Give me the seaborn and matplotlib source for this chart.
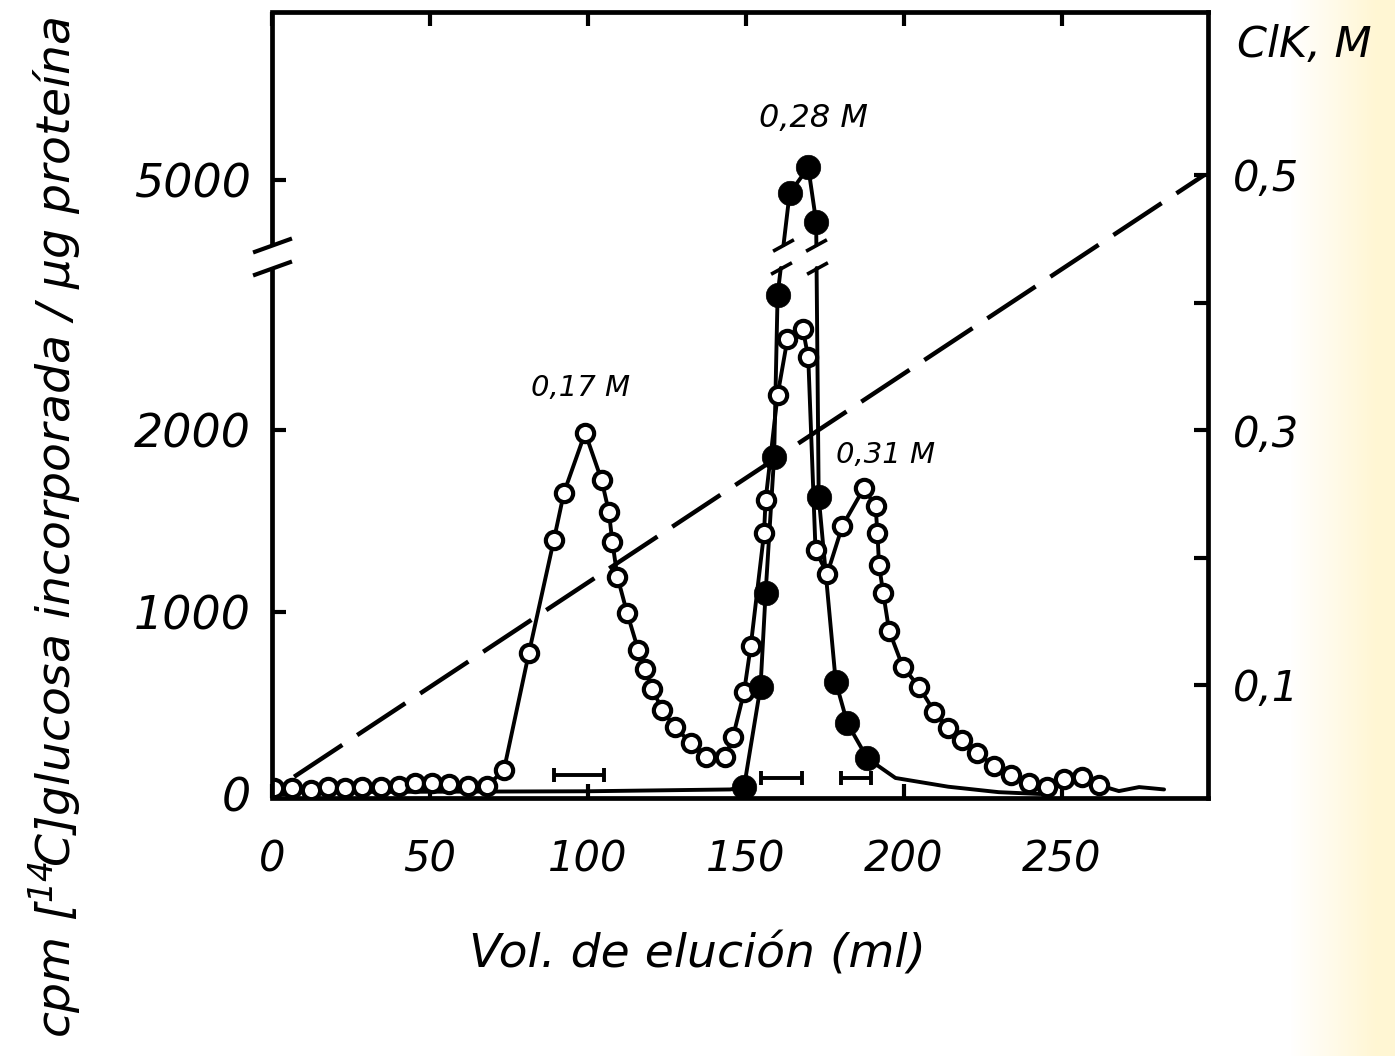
import numpy as np
import matplotlib
matplotlib.use("Agg")
import matplotlib.pyplot as plt
import seaborn as sns

# ---------------- data ----------------
open_x = [0.6, 6.2, 12.2, 17.7, 23.1, 28.6, 34.4, 40.2, 45.3, 50.7, 56.0, 62.1, 68.1, 73.4,
          81.3, 89.2, 92.4, 99.1, 104.3, 106.6, 107.7, 109.3, 112.4, 115.9, 118.0, 120.4,
          123.5, 127.5, 132.5, 137.2, 143.4, 145.9, 149.4, 151.5, 155.7, 156.2, 160.0,
          163.1, 168.0, 169.7, 172.0, 175.7, 180.5, 187.3, 191.0, 191.6, 192.1, 193.4,
          195.3, 199.6, 204.7, 209.6, 214.0, 218.5, 223.2, 228.5, 233.8, 239.6, 245.4,
          250.6, 256.4, 261.7]
open_y = [31, 31, 22, 40, 31, 40, 40, 44, 59, 59, 55, 44, 44, 132,
          775, 1396, 1656, 1985, 1725, 1551, 1386, 1194, 993, 791, 685, 575,
          462, 366, 282, 202, 202, 315, 562, 813, 1432, 1615, 2192,
          2498, 2553, 2399, 1340, 1209, 1473, 1680, 1582, 1432, 1258, 1106,
          897, 700, 590, 452, 361, 297, 224, 154, 104, 59, 40,
          81, 95, 49]
open_tail_x = [268.0, 274.4, 282.3]
open_tail_y = [16, 38, 25]

black_x = [149.4, 154.6, 156.2, 158.9, 160.0, 163.8, 169.7, 172.2, 173.0, 178.4, 182.1, 188.4]
black_y = [40, 590, 1103, 1853, 2742, 4926, 5069, 4771, 1634, 617, 388, 196]
black_lead_x = [0.0, 100.0, 145.0]
black_lead_y = [10, 15, 25]
black_tail_x = [197.3, 214.0, 230.0, 243.0]
black_tail_y = [88, 40, 10, 0]

kcl_x = [7, 295]
kcl_y = [0.028, 0.5]

pool_lo = [89.2, 154.6, 180.0]
pool_hi = [105.1, 167.8, 189.4]
pool_y = [104, 88, 88]

peak_labels = ["0,17 M", "0,28 M", "0,31 M"]
peak_x = [97.8, 171.5, 194.3]
peak_y = [2231, 5340, 1863]
peak_sizes = [21, 23, 21]

x_ticks = [0, 50, 100, 150, 200, 250]
y_ticks = [0, 1000, 2000, 5000]
y_ticklabels = ["0", "1000", "2000", "5000"]
kcl_ticks = [0.1, 0.2, 0.3, 0.4, 0.5]
kcl_ticklabels = ["0,1", "", "0,3", "", "0,5"]

# ---------------- broken y scale ----------------
LO, HI, GAP_T = 2890.0, 4642.0, 3016.0


def fwd(v):
    v = np.asarray(v, dtype=float)
    mid = LO + (v - LO) * (GAP_T - LO) / (HI - LO)
    return np.where(v <= LO, v, np.where(v >= HI, v - (HI - GAP_T), mid))


def inv(t):
    t = np.asarray(t, dtype=float)
    mid = LO + (t - LO) * (HI - LO) / (GAP_T - LO)
    return np.where(t <= LO, t, np.where(t >= GAP_T, t + (HI - GAP_T), mid))


def split_broken(xs, ys):
    segs = [[(xs[0], ys[0])]]
    cuts = []
    for i in range(1, len(xs)):
        x0, y0, x1, y1 = xs[i - 1], ys[i - 1], xs[i], ys[i]
        if (y0 <= LO and y1 >= HI) or (y0 >= HI and y1 <= LO):
            t0, t1 = float(fwd(y0)), float(fwd(y1))
            xa = x0 + (x1 - x0) * (LO - t0) / (t1 - t0)
            xb = x0 + (x1 - x0) * (GAP_T - t0) / (t1 - t0)
            if y0 < y1:
                segs[-1].append((xa, LO))
                segs.append([(xb, HI)])
            else:
                segs[-1].append((xb, HI))
                segs.append([(xa, LO)])
            cuts += [(xa, LO), (xb, HI)]
        segs[-1].append((x1, y1))
    return segs, cuts


# ---------------- style ----------------
sns.set_style("white")
plt.rcParams["font.family"] = ["DejaVu Sans"]
plt.rcParams["font.style"] = "italic"
plt.rcParams["mathtext.fontset"] = "dejavusans"
for key in ["text.color", "axes.labelcolor", "xtick.color", "ytick.color", "axes.edgecolor"]:
    plt.rcParams[key] = "black"

W, H = 1395, 1056
fig = plt.figure(figsize=(W / 100, H / 100), dpi=100)
fig.patch.set_facecolor("white")

# faint yellow scan edge on the right
bg = fig.add_axes([0, 0, 1, 1])
bg.set_zorder(-5)
bg.axis("off")
px = np.arange(W)
ramp = np.clip((px - 1290) / 85.0, 0, 1)
edge_col = np.array([1.0, 0.965, 0.83])
img = (1 - ramp)[:, None] * np.array([1.0, 1.0, 1.0]) + ramp[:, None] * edge_col
bg.imshow(img[None, :, :], extent=[0, 1, 0, 1], aspect="auto")
bg.set_xlim(0, 1)
bg.set_ylim(0, 1)

L, R, T, B = 272, 1208, 12, 798
ax = fig.add_axes([L / W, 1 - B / H, (R - L) / W, (B - T) / H])
ax2 = ax.twinx()
ax.set_zorder(ax2.get_zorder() + 1)
ax.patch.set_visible(False)

LW = 2.8

# KCl gradient (right axis)
sns.lineplot(x=kcl_x, y=kcl_y, ax=ax2, color="black", lw=3.2,
             linestyle=(0, (13, 4)), solid_capstyle="butt")

# open-circle series line
ox = open_x + open_tail_x
oy = open_y + open_tail_y
sns.lineplot(x=ox, y=oy, ax=ax, color="black", lw=LW, sort=False, estimator=None, zorder=2)

# filled series line (broken at the axis break)
bx = black_lead_x + black_x + black_tail_x
by = black_lead_y + black_y + black_tail_y
segs, cuts = split_broken(bx, by)
for seg in segs:
    sx, sy = zip(*seg)
    sns.lineplot(x=list(sx), y=list(sy), ax=ax, color="black", lw=LW, sort=False,
                 estimator=None, zorder=2)

# markers
sns.scatterplot(x=open_x, y=open_y, ax=ax, s=155, color="white", edgecolor="black",
                linewidth=3.0, zorder=4)
sns.scatterplot(x=black_x, y=black_y, ax=ax, s=310, color="black", edgecolor="black",
                linewidth=0.5, zorder=5)

# pooled fractions
pc = [(a + b) / 2 for a, b in zip(pool_lo, pool_hi)]
ph = [(b - a) / 2 for a, b in zip(pool_lo, pool_hi)]
ax.errorbar(pc, pool_y, xerr=ph, fmt="none", ecolor="black", elinewidth=2.8,
            capsize=5, capthick=2.8, zorder=3)

# peak labels
for lab, xx, yy, fs in zip(peak_labels, peak_x, peak_y, peak_sizes):
    ax.text(xx, yy, lab, ha="center", va="center", fontsize=fs, zorder=6)

# axes scales
ax.set_yscale("function", functions=(fwd, inv))
ax.set_xlim(0, (R - L) / 3.16)
y_bottom = -22
y_top = float(inv((794 - T) / 0.182))
ax.set_ylim(y_bottom, y_top)
ax2.set_ylim((812.5 - B) / 1275.0, (812.5 - T) / 1275.0)

# spines
SW = 3.4
for s in ["top", "bottom"]:
    ax.spines[s].set_linewidth(SW)
    ax.spines[s].set_color("black")
ax.spines["left"].set_visible(False)
ax.spines["right"].set_visible(False)
for s in ["left", "top", "bottom"]:
    ax2.spines[s].set_visible(False)
ax2.spines["right"].set_linewidth(SW)
ax2.spines["right"].set_color("black")

# broken left spine
ytr = ax.get_yaxis_transform()
ax.plot([0, 0], [y_bottom, LO], transform=ytr, color="black", lw=SW, clip_on=False,
        solid_capstyle="butt", zorder=7)
ax.plot([0, 0], [HI, y_top], transform=ytr, color="black", lw=SW, clip_on=False,
        solid_capstyle="butt", zorder=7)
slash = [(-1, -0.36), (1, 0.36)]
ax.plot([0, 0], [LO, HI], transform=ytr, marker=slash, markersize=28, linestyle="none",
        color="black", mec="black", mew=3.0, clip_on=False, zorder=7)
# break marks on the data line
ax.plot([c[0] for c in cuts], [c[1] for c in cuts], marker=[(-1, -0.55), (1, 0.55)],
        markersize=15, linestyle="none", color="black", mec="black", mew=2.6, zorder=7)

# ticks
ax.set_xticks(x_ticks)
ax.set_xticklabels([str(t) for t in x_ticks])
ax.tick_params(axis="x", direction="in", top=True, bottom=True, length=10, width=3,
               labelsize=30, pad=29)
ax.set_yticks(y_ticks)
ax.set_yticklabels(y_ticklabels)
ax.tick_params(axis="y", direction="in", left=True, right=False, length=10, width=3,
               labelsize=33, pad=15)
ax.yaxis.set_minor_locator(matplotlib.ticker.NullLocator())
ax2.set_yticks(kcl_ticks)
ax2.set_yticklabels(kcl_ticklabels)
ax2.tick_params(axis="y", direction="in", right=True, left=False, length=10, width=3,
                labelsize=30, pad=18)

# labels
ax.set_xlabel("Vol. de elución (ml)", fontsize=34, va="center")
ax.xaxis.set_label_coords((697 - L) / (R - L), (B - 955) / (B - T))
ax.set_ylabel("")
ax2.set_ylabel("")
fig.text(55 / W, 1 - 527 / H,
         r"cpm $\left[^{14}\!C\right]$glucosa incorporada / µg proteína",
         rotation=90, ha="center", va="center", fontsize=34)
fig.text(1237 / W, 1 - 45 / H, "ClK, M", ha="left", va="center", fontsize=31)

fig.savefig("out.png", dpi=100)
